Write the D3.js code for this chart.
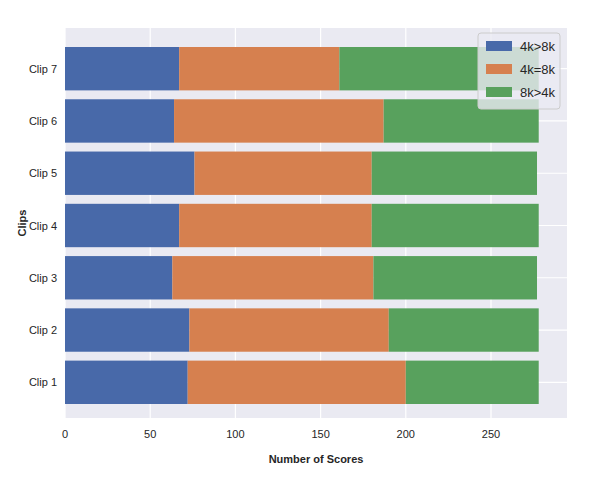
<!DOCTYPE html><html><head><meta charset="utf-8"><script src="https://cdn.jsdelivr.net/npm/d3@7"></script>
<style>body{margin:0;background:#fff}</style></head><body><svg id="c" width="600" height="478"></svg><script>
const categories=["Clip 1","Clip 2","Clip 3","Clip 4","Clip 5","Clip 6","Clip 7"];
const s4gt8=[72,73,63,67,76,64,67];
const s4eq8=[128,117,118,113,104,123,94];
const s8gt4=[78,88,96,98,97,91,117];
const seriesNames=["4k>8k","4k=8k","8k>4k"];
const colors=["#4869a9","#d6804f","#58a15d"];
const xticks=[0,50,100,150,200,250];
const svg=d3.select("#c");
const m={l:65,r:567,t:28,b:418};
const x=d3.scaleLinear().domain([0,294.6]).range([m.l,m.r]);
const y=d3.scaleBand().domain(categories.slice().reverse()).range([47,404]).paddingInner(0.17).paddingOuter(0);
svg.append("rect").attr("x",m.l).attr("y",m.t).attr("width",m.r-m.l).attr("height",m.b-m.t).attr("fill","#eaeaf2");
svg.append("g").selectAll("line").data(xticks).join("line").attr("x1",d=>x(d)).attr("x2",d=>x(d)).attr("y1",m.t).attr("y2",m.b).attr("stroke","#fff").attr("stroke-width",1.2);
svg.append("g").selectAll("line").data(categories).join("line").attr("x1",m.l).attr("x2",m.r).attr("y1",d=>y(d)+y.bandwidth()/2).attr("y2",d=>y(d)+y.bandwidth()/2).attr("stroke","#fff").attr("stroke-width",1.2);
const data=[s4gt8,s4eq8,s8gt4];
categories.forEach((c,i)=>{let acc=0;data.forEach((s,j)=>{svg.append("rect").attr("x",x(acc)).attr("y",y(c)).attr("width",x(acc+s[i])-x(acc)).attr("height",y.bandwidth()).attr("fill",colors[j]);acc+=s[i];});});
const f="Liberation Sans, Arial, sans-serif";
svg.append("g").selectAll("text").data(xticks).join("text").attr("x",d=>x(d)).attr("y",m.b+20).attr("text-anchor","middle").attr("font-family",f).attr("font-size",11).attr("fill","#262626").text(d=>d);
svg.append("g").selectAll("text").data(categories).join("text").attr("x",m.l-8).attr("y",d=>y(d)+y.bandwidth()/2+4).attr("text-anchor","end").attr("font-family",f).attr("font-size",11).attr("fill","#262626").text(d=>d);
svg.append("text").attr("x",(m.l+m.r)/2).attr("y",463).attr("text-anchor","middle").attr("font-family",f).attr("font-size",11).attr("font-weight","bold").attr("fill","#262626").text("Number of Scores");
svg.append("text").attr("transform",`translate(26,${(m.t+m.b)/2}) rotate(-90)`).attr("text-anchor","middle").attr("font-family",f).attr("font-size",11).attr("font-weight","bold").attr("fill","#262626").text("Clips");
const lg=svg.append("g").attr("transform","translate(478,33)");
lg.append("rect").attr("width",82).attr("height",76).attr("rx",3).attr("fill","#eaeaf2").attr("fill-opacity",0.8).attr("stroke","#ccc");
seriesNames.forEach((n,i)=>{lg.append("rect").attr("x",8).attr("y",8+i*23).attr("width",26).attr("height",10).attr("fill",colors[i]);lg.append("text").attr("x",42).attr("y",18+i*23).attr("font-family",f).attr("font-size",13).attr("fill","#262626").text(n);});
</script></body></html>
